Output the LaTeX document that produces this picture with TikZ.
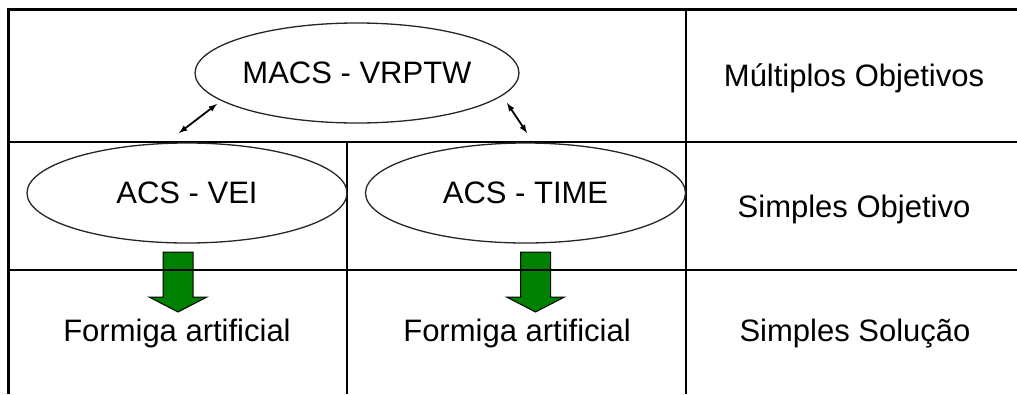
\documentclass[tikz,border=0pt]{standalone}
\usepackage{fontspec}
\setmainfont{Liberation Sans}
\usetikzlibrary{shapes.geometric}

\definecolor{antgreen}{RGB}{0,128,0}

\tikzset{
  algo/.style={ellipse, draw=black!85, line width=1.3pt, minimum width=320pt, minimum height=100pt, inner sep=0pt},
  rowtext/.style={anchor=base},
  tableline/.style={line width=1.8pt},
  link/.style={latex-latex, line width=1.8pt},
  antarrow/.pic={
    \filldraw[fill=antgreen, draw=black, line width=1pt]
      (-15,0) -- (15,0) -- (15,45) -- (29,45) -- (0,60) -- (-29,45) -- (-15,45) -- cycle;
  }
}

\begin{document}
\begin{tikzpicture}[x=1pt, y=-1pt, font=\fontsize{31}{37}\selectfont]
 \useasboundingbox (0,0) rectangle (1017,394);

 \coordinate (A) at (8.5,9);
 \coordinate (B) at (1017,9);
 \coordinate (C) at (8.5,394);
 \coordinate (D) at (8.5,142);
 \coordinate (E) at (1017,142);
 \coordinate (F) at (8.5,270);
 \coordinate (G) at (1017,270);
 \coordinate (H) at (347,142);
 \coordinate (I) at (347,394);
 \coordinate (J) at (686,9);
 \coordinate (K) at (686,394);

\pic at (178,252) {antarrow};
\pic at (535.5,252) {antarrow};

\draw[line width=3pt] (B) -- (A) -- (C);
\draw[tableline] (D) -- (E);
\draw[tableline] (F) -- (G);
\draw[tableline] (H) -- (I);
\draw[tableline] (J) -- (K);

\node[algo] (macs) at (357,73) {MACS - VRPTW};
\node[algo] (vei) at (187,193) {ACS - VEI};
\node[algo] (time) at (525.5,193) {ACS - TIME};

 \coordinate (m1) at (217,104);
 \coordinate (v1) at (179,133);
 \coordinate (m2) at (507,103);
 \coordinate (t1) at (527,133);
\draw[link] (m1) -- (v1);
\draw[link] (m2) -- (t1);

\node[rowtext] (multi) at (854,86) {Múltiplos Objetivos};
\node[rowtext] (simpobj) at (854,217) {Simples Objetivo};
\node[rowtext] (simpsol) at (855,341) {Simples Solução};
\node[rowtext] (form1) at (177,341) {Formiga artificial};
\node[rowtext] (form2) at (517,341) {Formiga artificial};
  \end{tikzpicture}
\end{document}
